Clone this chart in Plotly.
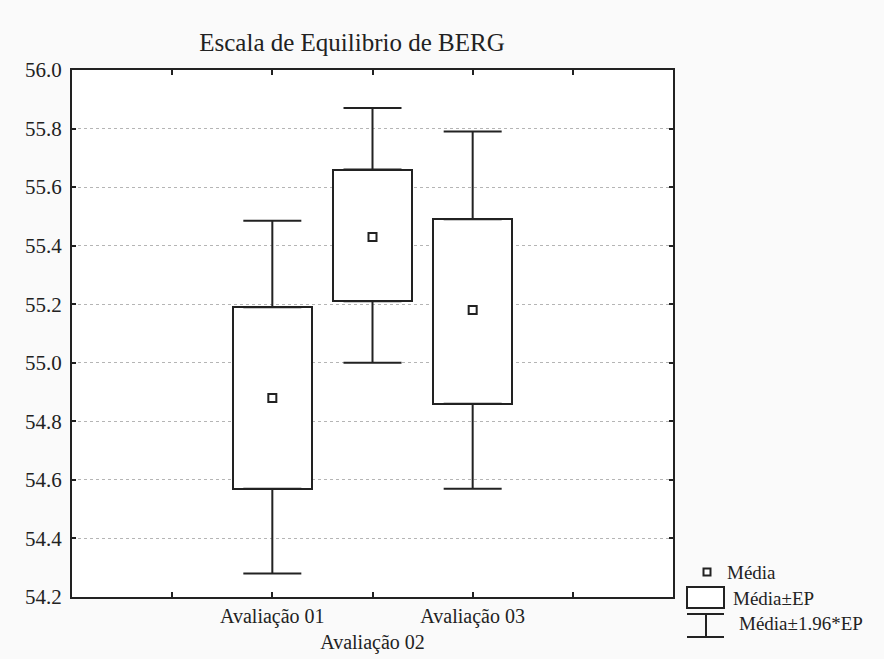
import plotly.graph_objects as go

categories = ["Avaliação 01", "Avaliação 02", "Avaliação 03"]
mean = [54.88, 55.43, 55.18]
box_low = [54.57, 55.21, 54.86]
box_high = [55.19, 55.66, 55.49]
whisk_low = [54.28, 55.00, 54.57]
whisk_high = [55.485, 55.87, 55.79]
tick_labels = ["", "Avaliação 01", "<br>Avaliação 02", "Avaliação 03", ""]

xpos = list(range(len(categories)))
serif = "'Times New Roman', 'Liberation Serif', 'Noto Serif', 'DejaVu Serif', serif"
W, H = 884, 659
L, R, T, B = 72, 673, 70, 597

fig = go.Figure()
fig.add_trace(go.Bar(
    x=xpos, y=[h - l for h, l in zip(box_high, box_low)], base=box_low,
    width=0.79, marker=dict(color="white", line=dict(color="#222", width=2)),
    showlegend=False, hoverinfo="skip"))
fig.add_trace(go.Scatter(
    x=xpos, y=box_high, mode="markers", marker=dict(size=1, color="rgba(0,0,0,0)"),
    error_y=dict(type="data", symmetric=False,
                 array=[w - h for w, h in zip(whisk_high, box_high)],
                 arrayminus=[0] * 3, width=29, thickness=2, color="#222"),
    showlegend=False, hoverinfo="skip"))
fig.add_trace(go.Scatter(
    x=xpos, y=box_low, mode="markers", marker=dict(size=1, color="rgba(0,0,0,0)"),
    error_y=dict(type="data", symmetric=False,
                 array=[0] * 3,
                 arrayminus=[l - w for l, w in zip(box_low, whisk_low)],
                 width=29, thickness=2, color="#222"),
    showlegend=False, hoverinfo="skip"))
fig.add_trace(go.Scatter(
    x=xpos, y=mean, mode="markers",
    marker=dict(symbol="square-open", size=8, color="#222", line=dict(width=2)),
    showlegend=False, hoverinfo="skip"))

def px(x):
    return (x - L) / (R - L)

def py(y):
    return (B - y) / (B - T)

shapes = [
    dict(type="rect", xref="paper", yref="paper", x0=px(703.5), x1=px(710.5), y0=py(568.5), y1=py(575.5),
         line=dict(color="#222", width=2), fillcolor="white"),
    dict(type="rect", xref="paper", yref="paper", x0=px(687), x1=px(724), y0=py(587), y1=py(608),
         line=dict(color="#222", width=2), fillcolor="white"),
    dict(type="line", xref="paper", yref="paper", x0=px(687), x1=px(724), y0=py(614), y1=py(614),
         line=dict(color="#222", width=2)),
    dict(type="line", xref="paper", yref="paper", x0=px(687), x1=px(724), y0=py(637), y1=py(637),
         line=dict(color="#222", width=2)),
    dict(type="line", xref="paper", yref="paper", x0=px(706), x1=px(706), y0=py(614), y1=py(637),
         line=dict(color="#222", width=2)),
]
legend_texts = [("Média", 725, 572), ("Média±EP", 731, 598), ("Média±1.96*EP", 737, 623)]
annotations = [
    dict(text=t, xref="paper", yref="paper", x=px(x0), y=py(y0), xanchor="left", yanchor="middle",
         showarrow=False, font=dict(family=serif, size=19, color="#222"))
    for t, x0, y0 in legend_texts
]

fig.update_layout(
    width=W, height=H,
    margin=dict(l=L, r=W - R, t=T, b=H - B, autoexpand=False),
    paper_bgcolor="#fafafa", plot_bgcolor="white",
    font=dict(family=serif, color="#222"),
    title=dict(text="Escala de Equilibrio de BERG", x=352 / W, xanchor="center",
               y=1 - 42 / H, yanchor="middle", font=dict(family=serif, size=25, color="#222")),
    shapes=shapes, annotations=annotations,
    bargap=0,
)
fig.update_xaxes(range=[-2, 4], tickvals=[-1, 0, 1, 2, 3], ticktext=tick_labels, tickangle=0,
                 showgrid=False, zeroline=False, showline=True, mirror="ticks",
                 linecolor="#222", linewidth=2, ticks="inside", ticklen=5, tickwidth=2,
                 tickcolor="#222", tickfont=dict(family=serif, size=20, color="#222"))
fig.update_yaxes(range=[54.2, 56.0], dtick=0.2, tick0=54.2, tickformat=".1f",
                 showgrid=True, gridcolor="#b5b5b5", griddash="dot", gridwidth=1,
                 zeroline=False, showline=True, mirror="ticks", ticklabelstandoff=4,
                 linecolor="#222", linewidth=2, ticks="inside", ticklen=4, tickwidth=2,
                 tickcolor="#222", tickfont=dict(family=serif, size=21, color="#222"))

fig.write_html("out.html")
